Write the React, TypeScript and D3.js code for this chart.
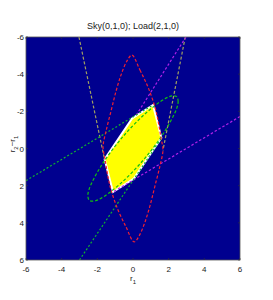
import React from "react";
import * as d3 from "d3";

// tick values / labels
const xTicks = [-6, -4, -2, 0, 2, 4, 6];
const yTicks = [-6, -4, -2, 0, 2, 4, 6];
const tickLabels = ["-6", "-4", "-2", "0", "2", "4", "6"];

// feasible region (yellow)
const region: [number, number][] = [
  [1.12, -2.34], [1.59, -0.58], [0.05, 1.62],
  [-1.12, 2.34], [-1.59, 0.58], [-0.05, -1.62],
];

// red dashed closed curve
const redCurve: [number, number][] = [
  [-0.06, -5.03], [0.39, -4.22], [0.84, -3.31], [1.23, -2.23], [1.4, -1.53],
  [1.57, -0.57], [1.68, 0.08], [1.51, 0.94], [1.23, 2.02], [0.95, 3.09],
  [0.67, 3.96], [0.34, 4.71], [0.06, 5.03], [-0.39, 4.22], [-0.84, 3.31],
  [-1.23, 2.23], [-1.4, 1.53], [-1.57, 0.57], [-1.68, -0.08], [-1.51, -0.94],
  [-1.23, -2.02], [-0.95, -3.09], [-0.67, -3.96], [-0.34, -4.71],
];

// green dashed closed curve
const greenCurve: [number, number][] = [
  [2.45, -2.79], [2.53, -2.56], [2.45, -2.16], [1.79, -0.94], [0.66, 0.53],
  [-0.66, 1.85], [-1.79, 2.68], [-2.19, 2.83], [-2.45, 2.79], [-2.53, 2.56],
  [-2.45, 2.16], [-1.79, 0.94], [-0.66, -0.53], [0.66, -1.85], [1.79, -2.68],
  [2.19, -2.83],
];

// straight segments
const oliveLines: [number, number][][] = [
  [[-3.03, -6], [-1.59, 0.62]],
  [[2.93, -6], [1.68, 0.1]],
];
const purpleLines: [number, number][][] = [
  [[2.97, -6], [0.17, -1.78]],
  [[6, -1.72], [-1.12, 2.34]],
];
const greenLines: [number, number][][] = [
  [[-6, 1.73], [1.12, -2.34]],
  [[-3.0, 6.0], [1.59, -0.55]],
];

const W = 273, H = 300;
const left = 26, right = 240, top = 37, bottom = 260;

export default function App() {
  const x = d3.scaleLinear().domain([-6, 6]).range([left, right]);
  const y = d3.scaleLinear().domain([-6, 6]).range([top, bottom]);

  const line = d3.line<[number, number]>().x((d) => x(d[0])).y((d) => y(d[1]));
  const closed = d3
    .line<[number, number]>()
    .x((d) => x(d[0]))
    .y((d) => y(d[1]))
    .curve(d3.curveCatmullRomClosed.alpha(0.5));
  const poly = d3
    .line<[number, number]>()
    .x((d) => x(d[0]))
    .y((d) => y(d[1]))
    .curve(d3.curveLinearClosed);

  const font = "'Liberation Sans Narrow', 'Liberation Sans', Arial, sans-serif";

  return (
    <svg
      width={W}
      height={H}
      style={{ position: "absolute", left: 0, top: 0, background: "#fff" }}
    >
      <defs>
        <clipPath id="plot">
          <rect x={left} y={top} width={right - left} height={bottom - top} />
        </clipPath>
      </defs>
      <text
        x={133}
        y={29}
        textAnchor="middle"
        fontSize={9}
        fontFamily={font}
        fill="#222"
      >
        Sky(0,1,0); Load(2,1,0)
      </text>

      <rect x={left} y={top} width={right - left} height={bottom - top} fill="#00008f" />

      <g clipPath="url(#plot)" fill="none">
        <path d={poly(region)!} fill="#ffff00" stroke="#fff" strokeWidth={2} />
        {oliveLines.map((l, i) => (
          <path key={"o" + i} d={line(l)!} stroke="#a0a060" strokeWidth={1.2} strokeDasharray="3,2" />
        ))}
        {purpleLines.map((l, i) => (
          <path key={"p" + i} d={line(l)!} stroke="#b020e8" strokeWidth={1.2} strokeDasharray="2.5,2" />
        ))}
        {greenLines.map((l, i) => (
          <path key={"g" + i} d={line(l)!} stroke="#10b030" strokeWidth={1.2} strokeDasharray="2,2" />
        ))}
        <path d={closed(greenCurve)!} stroke="#10c010" strokeWidth={1.2} strokeDasharray="3,2" />
        <path d={closed(redCurve)!} stroke="#f02030" strokeWidth={1.2} strokeDasharray="3,2" />
      </g>

      <rect
        x={left}
        y={top}
        width={right - left}
        height={bottom - top}
        fill="none"
        stroke="#555"
        strokeWidth={0.8}
      />

      {xTicks.map((t, i) => (
        <g key={"xt" + i}>
          <line x1={x(t)} x2={x(t)} y1={bottom} y2={bottom - 2} stroke="#333" strokeWidth={0.6} />
          <line x1={x(t)} x2={x(t)} y1={top} y2={top + 2} stroke="#333" strokeWidth={0.6} />
          <text
            x={x(t)}
            y={272}
            textAnchor="middle"
            fontSize={8}
            fontFamily={font}
            fill="#222"
          >
            {tickLabels[i]}
          </text>
        </g>
      ))}
      {yTicks.map((t, i) => (
        <g key={"yt" + i}>
          <line x1={left} x2={left + 2} y1={y(t)} y2={y(t)} stroke="#333" strokeWidth={0.6} />
          <line x1={right} x2={right - 2} y1={y(t)} y2={y(t)} stroke="#333" strokeWidth={0.6} />
          <text
            x={24}
            y={y(t) + 3}
            textAnchor="end"
            fontSize={8}
            fontFamily={font}
            fill="#222"
          >
            {tickLabels[i]}
          </text>
        </g>
      ))}

      <text x={133} y={281} textAnchor="middle" fontSize={8} fontFamily={font} fill="#222">
        r<tspan fontSize={6} dy={3}>1</tspan>
      </text>
      <text
        transform="translate(15,144) rotate(-90)"
        textAnchor="middle"
        fontSize={8}
        fontFamily={font}
        fill="#222"
      >
        r<tspan fontSize={6} dy={3}>2</tspan>
        <tspan dy={-3}>−r</tspan>
        <tspan fontSize={6} dy={3}>1</tspan>
      </text>
    </svg>
  );
}
